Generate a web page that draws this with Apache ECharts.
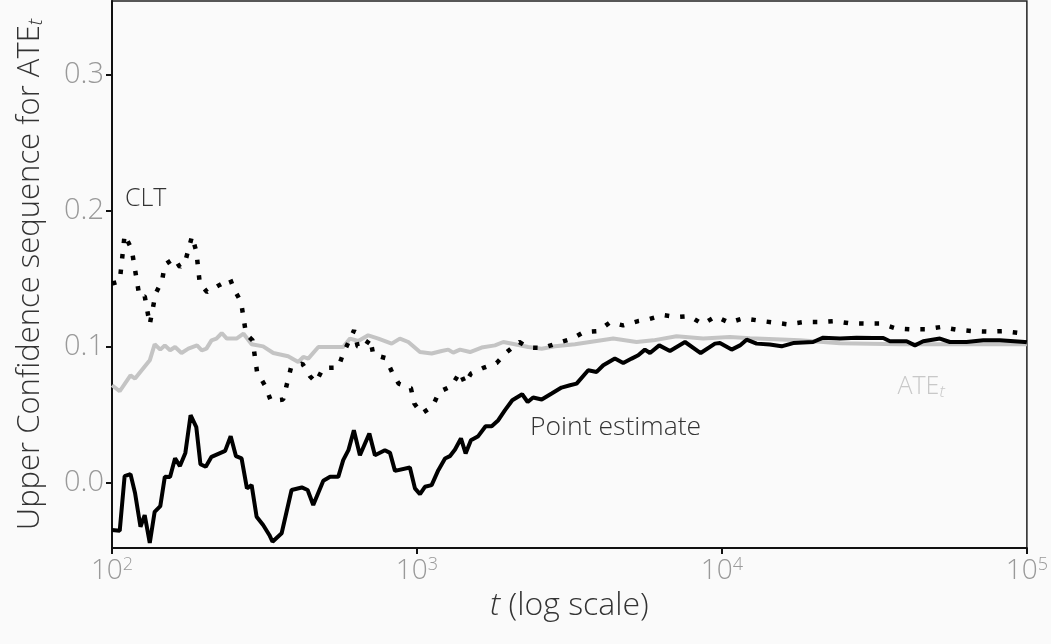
<!DOCTYPE html>
<html>
<head>
<meta charset="utf-8">
<script src="https://cdn.jsdelivr.net/npm/echarts@6/dist/echarts.min.js"></script>
<style>
  html, body { margin: 0; background: #fafafa; }
  #chart { width: 1051px; height: 644px; }
</style>
</head>
<body>
<div id="chart"></div>
<script>
// ---------------------------------------------
// Data (t on a log scale)
// ---------------------------------------------
const estimateT = [100, 106, 110, 115, 119, 124, 128, 133, 138, 144, 149, 155, 161, 167, 174, 181, 189, 195, 203, 212,
  235, 245, 255, 266, 277, 287, 298, 313, 328, 336, 360, 388, 419, 438, 457, 493, 519, 552, 573, 596,
  621, 650, 698, 728, 785, 816, 847, 948, 985, 1023, 1062, 1117, 1175, 1236, 1282, 1333, 1394, 1444, 1503, 1588,
  1679, 1758, 1848, 1944, 2054, 2213, 2307, 2404, 2565, 2765, 2979, 3175, 3338, 3644, 3882, 4083, 4457, 4747, 5058, 5316,
  5591, 5808, 6230, 6754, 7568, 8517, 9488, 9849, 10760, 11460, 12050, 12990, 14350, 15690, 17130, 19910, 21480, 24380, 27650, 31330,
  33810, 35560, 40330, 42950, 45710, 51860, 55910, 63390, 71920, 81470, 98490, 100000];
const estimateValues = [-0.0345, -0.0350, 0.0051, 0.0066, -0.0073, -0.0321, -0.0235, -0.0440, -0.0211, -0.0169,
  0.0046, 0.0044, 0.0183, 0.0125, 0.0222, 0.0499, 0.0411, 0.0139, 0.0120, 0.0193,
  0.0237, 0.0345, 0.0198, 0.0181, -0.0039, -0.0015, -0.0247, -0.0308, -0.0381, -0.0431,
  -0.0369, -0.0051, -0.0032, -0.0051, -0.0161, 0.0017, 0.0046, 0.0046, 0.0169, 0.0242,
  0.0389, 0.0205, 0.0365, 0.0205, 0.0242, 0.0222, 0.0090, 0.0115, -0.0039, -0.0081,
  -0.0027, -0.0015, 0.0095, 0.0181, 0.0198, 0.0247, 0.0328, 0.0218, 0.0315, 0.0345,
  0.0418, 0.0418, 0.0462, 0.0536, 0.0609, 0.0653, 0.0596, 0.0629, 0.0614, 0.0658,
  0.0702, 0.0719, 0.0731, 0.0829, 0.0817, 0.0866, 0.0915, 0.0883, 0.0915, 0.0939,
  0.0981, 0.0956, 0.1012, 0.0971, 0.1037, 0.0956, 0.1025, 0.1029, 0.0981, 0.1012,
  0.1054, 0.1025, 0.1018, 0.1005, 0.1029, 0.1037, 0.1069, 0.1062, 0.1069, 0.1066,
  0.1066, 0.1042, 0.1042, 0.1012, 0.1042, 0.1062, 0.1037, 0.1037, 0.1049, 0.1049, 0.1037, 0.1035];

const cltT = [100, 106, 110, 116, 123, 128, 133, 139, 146, 149, 160, 167, 175, 183, 189, 194, 205, 224, 244, 251,
  265, 275, 289, 299, 318, 332, 364, 386, 421, 446, 466, 493, 552, 573, 603, 622, 639, 668, 702, 719,
  789, 828, 871, 955, 980, 1036, 1126, 1183, 1299, 1384, 1437, 1503, 1659, 1825, 1972, 2165, 2317, 2594, 2891, 3236,
  3528, 3928, 4295, 4747, 5316, 5775, 6420, 7102, 7816, 8647, 9550, 10570, 11750, 13050, 14660, 16420, 18480, 20800, 23340, 26290,
  29580, 33190, 37150, 41670, 46670, 52240, 58480, 65880, 74120, 83560, 94190, 100000];
const cltValues = [0.1467, 0.1482, 0.1825, 0.1719, 0.1372, 0.1374, 0.1167, 0.1392, 0.1489, 0.1605,
  0.1653, 0.1587, 0.1653, 0.1814, 0.1702, 0.1470, 0.1404, 0.1453, 0.1499, 0.1428,
  0.1330, 0.1098, 0.1049, 0.0817, 0.0714, 0.0604, 0.0614, 0.0846, 0.0878, 0.0785,
  0.0741, 0.0846, 0.0849, 0.0952, 0.1059, 0.1123, 0.1005, 0.0990, 0.1062, 0.0944,
  0.0919, 0.0817, 0.0731, 0.0699, 0.0585, 0.0511, 0.0565, 0.0670, 0.0714, 0.0817,
  0.0731, 0.0805, 0.0849, 0.0883, 0.0963, 0.1037, 0.0996, 0.0993, 0.1029, 0.1062,
  0.1110, 0.1117, 0.1181, 0.1159, 0.1191, 0.1205, 0.1235, 0.1220, 0.1227, 0.1169,
  0.1225, 0.1179, 0.1211, 0.1196, 0.1181, 0.1167, 0.1183, 0.1183, 0.1191, 0.1174,
  0.1172, 0.1172, 0.1137, 0.1130, 0.1130, 0.1147, 0.1128, 0.1117, 0.1113, 0.1117, 0.1103, 0.1100];

const ateT = [100, 106, 115, 119, 133, 138, 144, 149, 155, 161, 169, 178, 190, 197, 204, 212, 220, 229, 238, 256,
  270, 287, 313, 338, 378, 408, 424, 440, 475, 573, 603, 642, 692, 747, 826, 879, 937, 1023, 1117, 1205,
  1266, 1315, 1384, 1493, 1629, 1802, 1919, 2094, 2317, 2565, 2835, 3296, 3882, 4401, 5248, 5956, 7102, 8683, 10620, 12360,
  18020, 24380, 38370, 60260, 100000];
const ateValues = [0.0719, 0.0675, 0.0792, 0.0768, 0.0902, 0.1020, 0.0981, 0.1012, 0.0976, 0.1000,
  0.0956, 0.0988, 0.1012, 0.0976, 0.0988, 0.1049, 0.1062, 0.1103, 0.1062, 0.1062,
  0.1098, 0.1020, 0.1005, 0.0956, 0.0932, 0.0890, 0.0927, 0.0915, 0.1000, 0.1000,
  0.1062, 0.1044, 0.1086, 0.1062, 0.1025, 0.1062, 0.1037, 0.0963, 0.0952, 0.0971,
  0.0981, 0.0959, 0.0981, 0.0963, 0.0996, 0.1012, 0.1037, 0.1020, 0.1000, 0.0988,
  0.1005, 0.1020, 0.1044, 0.1062, 0.1037, 0.1049, 0.1079, 0.1062, 0.1073, 0.1064,
  0.1049, 0.1027, 0.1020, 0.1020, 0.1020];

const yTicks = [0, 0.1, 0.2, 0.3];

// label anchors [t, value]
const cltLabelAt = [129, 0.209];
const estimateLabelAt = [4480, 0.041];
const ateLabelAt = [45000, 0.0705];

// ---------------------------------------------
// Helpers
// ---------------------------------------------
const FONT = 'Open Sans';

function zip(xs, ys) {
  return xs.map((x, i) => [x, ys[i]]);
}

function textLabel(at, text, color, size, rich) {
  return {
    symbol: 'circle',
    symbolSize: 1,
    itemStyle: { color: 'transparent' },
    data: [{ coord: at }],
    label: {
      show: true,
      position: 'inside',
      formatter: text,
      color,
      fontFamily: FONT,
      fontWeight: 300,
      fontSize: size,
      rich,
    },
  };
}

// ---------------------------------------------
// Chart
// ---------------------------------------------
const chart = echarts.init(document.getElementById('chart'));

const option = {
  backgroundColor: '#fafafa',
  animation: false,
  grid: {
    left: 112,
    right: 23,
    top: 1,
    bottom: 96,
    show: true,
    borderColor: '#222',
    borderWidth: 1.5,
  },
  xAxis: {
    type: 'log',
    logBase: 10,
    min: 100,
    max: 100000,
    name: '{it|t} (log scale)',
    nameLocation: 'middle',
    nameGap: 34,
    nameTextStyle: {
      color: '#333',
      fontFamily: FONT,
      fontWeight: 300,
      fontSize: 32,
      rich: {
        it: { fontStyle: 'italic', fontWeight: 300, fontFamily: FONT, fontSize: 32, color: '#333' },
      },
    },
    axisLine: { onZero: false, lineStyle: { color: '#111', width: 2 } },
    axisTick: { show: true, length: 6, lineStyle: { color: '#111', width: 2 } },
    minorTick: { show: false },
    splitLine: { show: false },
    axisLabel: {
      color: '#999',
      fontFamily: FONT,
      fontWeight: 300,
      fontSize: 28,
      margin: 8,
      formatter(value) {
        return `10{sup|${Math.round(Math.log10(value))}}`;
      },
      rich: {
        sup: { fontSize: 18, fontWeight: 300, color: '#999', fontFamily: FONT, verticalAlign: 'top', padding: [0, 0, 12, 0] },
      },
    },
  },
  yAxis: {
    type: 'value',
    min: -0.0477,
    max: 0.3543,
    name: 'Upper Confidence sequence for ATE{sub|t}',
    nameLocation: 'middle',
    nameGap: 66,
    nameRotate: 90,
    nameTextStyle: {
      color: '#333',
      fontFamily: FONT,
      fontWeight: 300,
      fontSize: 31,
      rich: {
        sub: { fontSize: 20, fontWeight: 300, fontStyle: 'italic', color: '#333', fontFamily: FONT, verticalAlign: 'bottom', padding: [12, 0, 0, 0] },
      },
    },
    axisLine: { show: true, onZero: false, lineStyle: { color: '#111', width: 2 } },
    axisTick: { show: true, length: 6, customValues: yTicks, lineStyle: { color: '#111', width: 2 } },
    splitLine: { show: false },
    axisLabel: {
      color: '#999',
      fontFamily: FONT,
      fontWeight: 300,
      fontSize: 29,
      margin: 8,
      customValues: yTicks,
      formatter: (v) => v.toFixed(1),
    },
  },
  series: [
    {
      name: 'ATE',
      type: 'line',
      data: zip(ateT, ateValues),
      showSymbol: false,
      lineStyle: { color: '#c4c4c4', width: 4 },
      z: 2,
      markPoint: textLabel(ateLabelAt, 'ATE{sub|t}', '#c8c8c8', 25, {
        sub: { fontSize: 17, fontWeight: 300, fontStyle: 'italic', color: '#c8c8c8', fontFamily: FONT, verticalAlign: 'bottom', padding: [10, 0, 0, 0] },
      }),
    },
    {
      name: 'CLT',
      type: 'line',
      data: zip(cltT, cltValues),
      showSymbol: false,
      lineStyle: { color: '#000', width: 4.5, type: [4.5, 11], cap: 'butt' },
      z: 3,
      markPoint: textLabel(cltLabelAt, 'CLT', '#333', 25),
    },
    {
      name: 'Point estimate',
      type: 'line',
      data: zip(estimateT, estimateValues),
      showSymbol: false,
      lineStyle: { color: '#000', width: 4 },
      z: 4,
      markPoint: textLabel(estimateLabelAt, 'Point estimate', '#333', 26.5),
    },
  ],
};

chart.setOption(option);
</script>
</body>
</html>
